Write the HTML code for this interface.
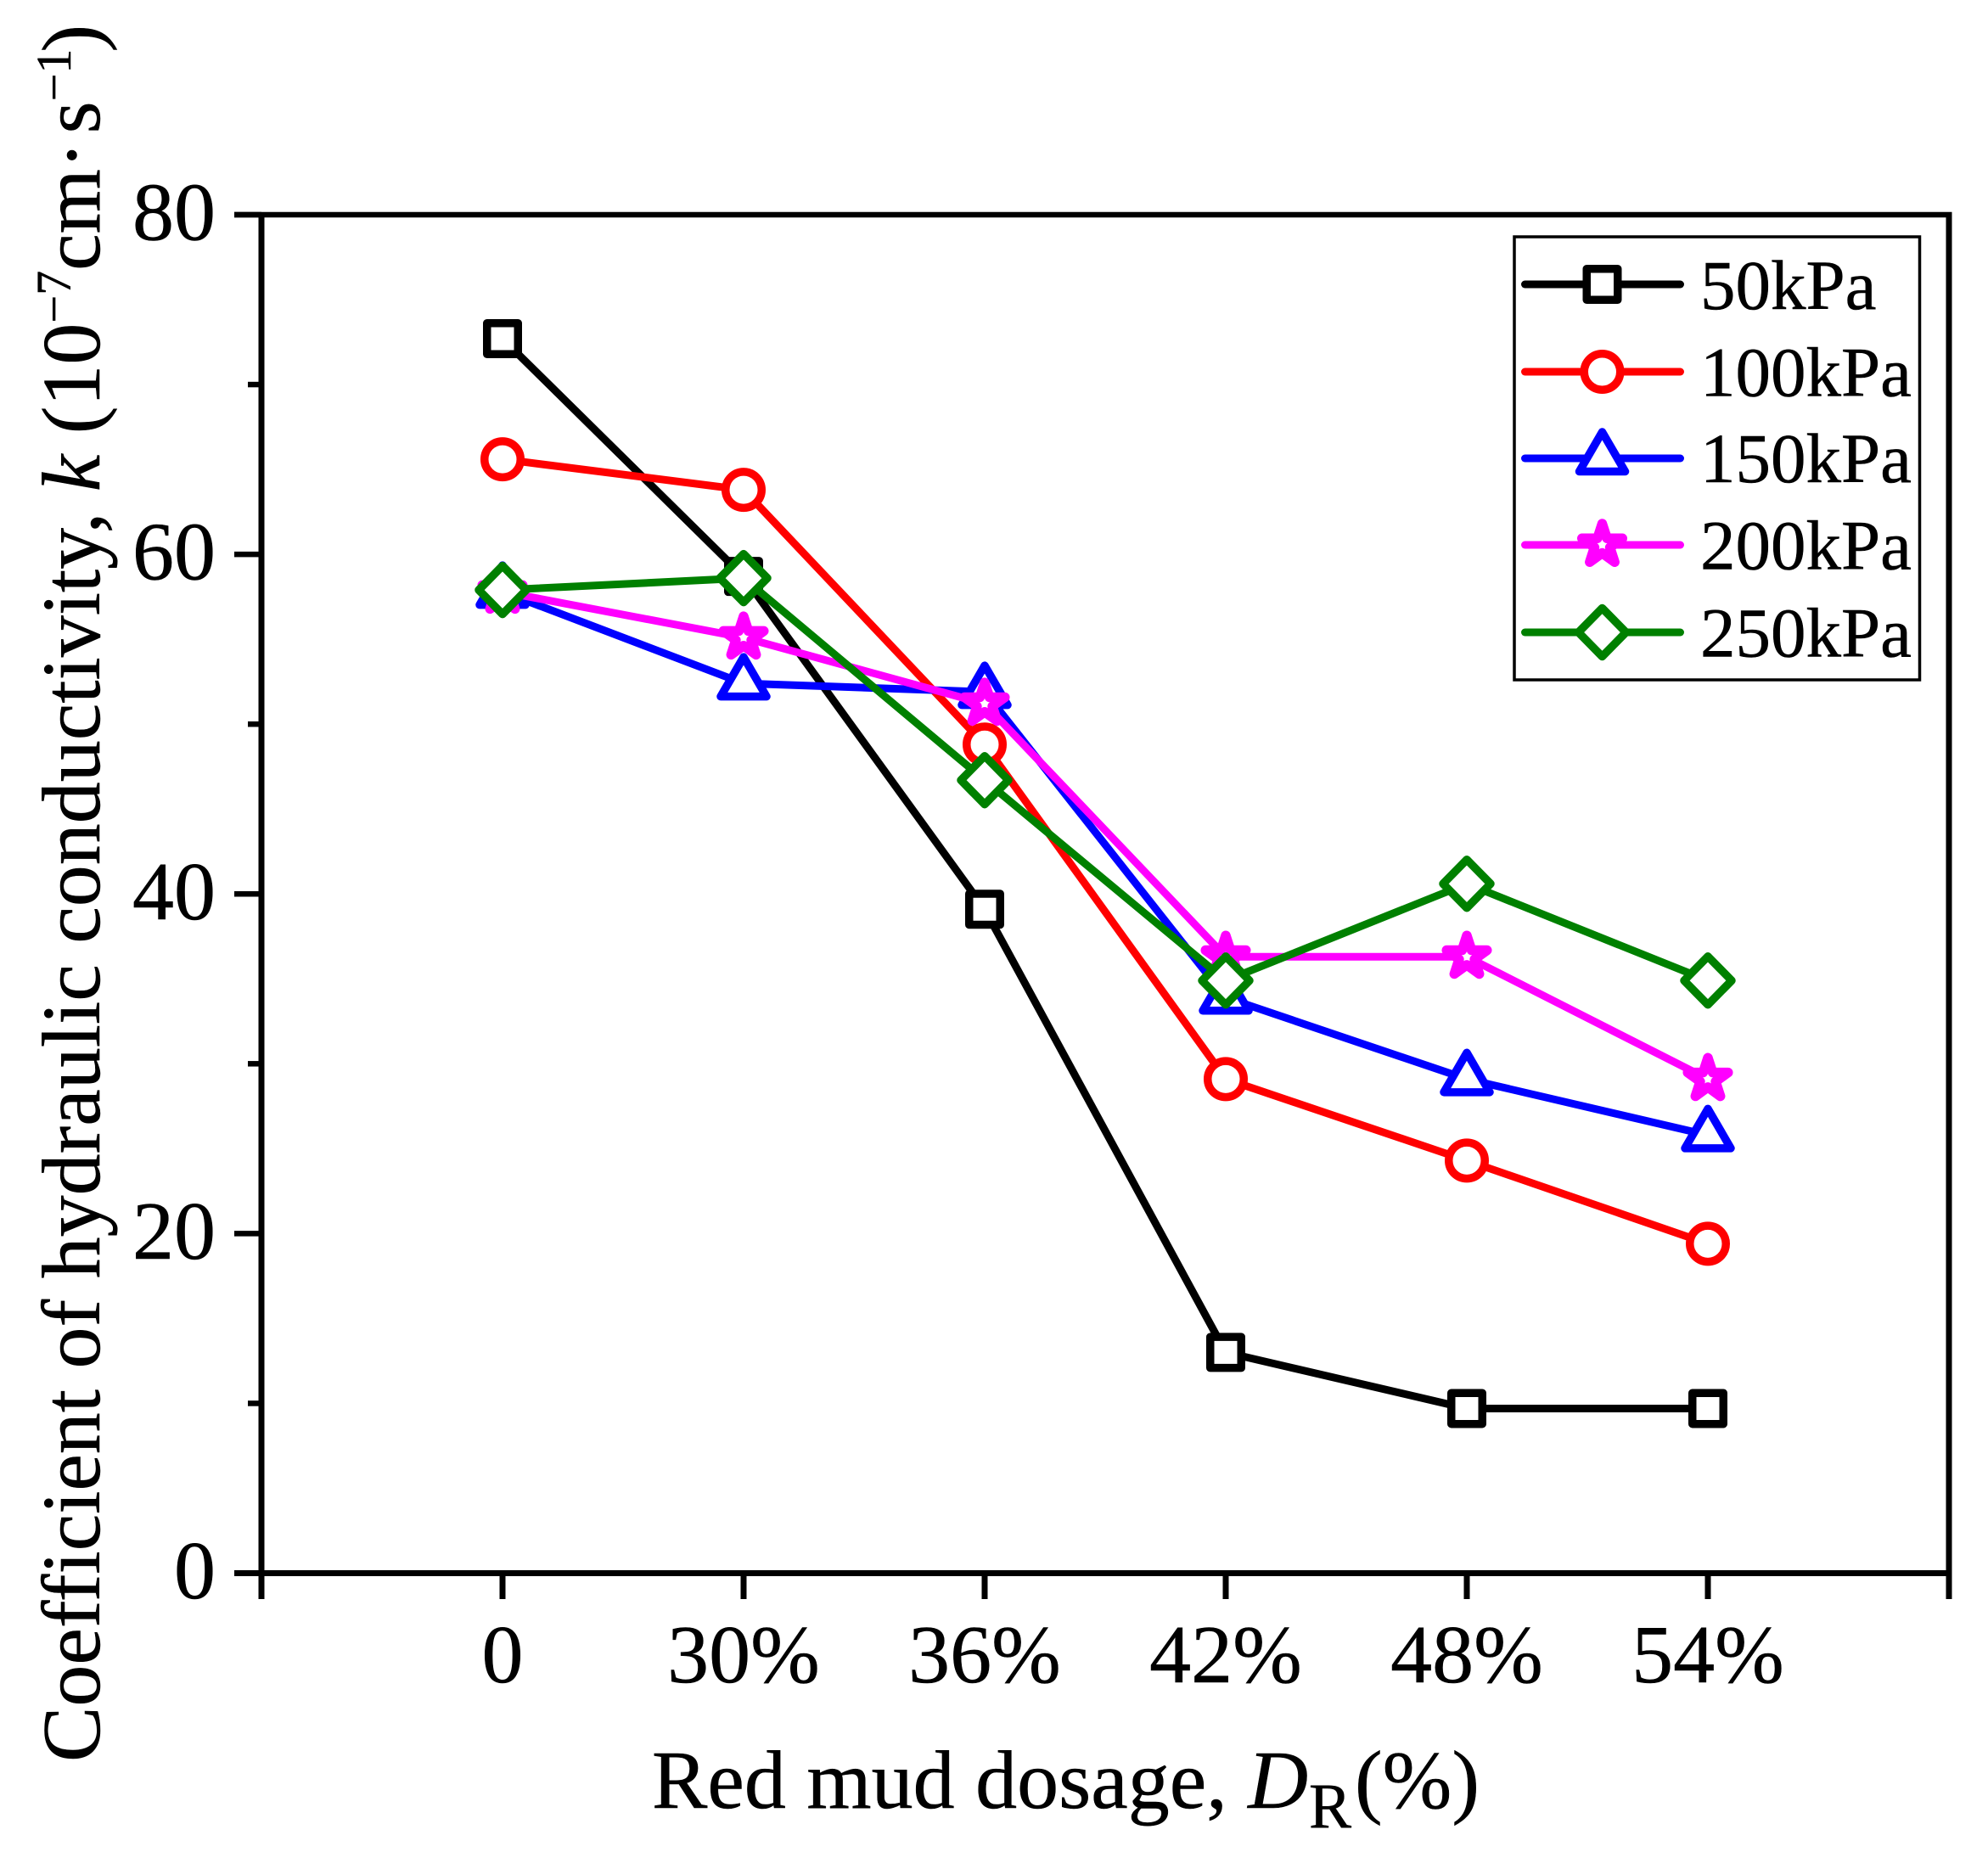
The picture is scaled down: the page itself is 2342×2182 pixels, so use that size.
<!DOCTYPE html>
<html>
<head>
<meta charset="utf-8">
<style>
html,body{margin:0;padding:0;background:#fff;}
svg{display:block;}
text{font-family:"Liberation Serif",serif;fill:#000;stroke:#000;stroke-width:0.5;}
</style>
</head>
<body>
<svg id="chart" xmlns="http://www.w3.org/2000/svg" width="2342" height="2182" viewBox="0 0 2342 2182">
  <rect x="0" y="0" width="2342" height="2182" fill="#fff"/>
  <text transform="translate(117,2072) rotate(-90)" x="-4" y="0" font-size="98">Coefficient of hydraulic conductivity, <tspan font-style="italic">k</tspan> (10<tspan font-size="58" dy="-34">−7</tspan><tspan dy="34">cm·</tspan><tspan dx="9">s</tspan><tspan font-size="58" dy="-34">−1</tspan><tspan dy="34" dx="-4">)</tspan></text>
  <text x="768" y="2130" font-size="98">Red mud dosage, <tspan font-style="italic">D</tspan><tspan font-size="75" dy="23" dx="1">R</tspan><tspan dy="-23" dx="4">(%)</tspan></text>
  <g id="axes"></g>
  <g id="series"></g>
  <g id="legend">
    <rect x="1784" y="279" width="477.5" height="522" fill="#fff" stroke="#000" stroke-width="3.5"/>
  </g>
</svg>
<script>
var categories = ["0", "30%", "36%", "42%", "48%", "54%"];
var yTickLabels = [0, 20, 40, 60, 80];
var yMinorTicks = [10, 30, 50, 70];
var seriesNames = ["50kPa", "100kPa", "150kPa", "200kPa", "250kPa"];
var values50 = [72.7, 58.7, 39.1, 13.0, 9.7, 9.7];
var values100 = [65.6, 63.8, 48.8, 29.1, 24.3, 19.4];
var values150 = [57.8, 52.4, 51.9, 33.9, 29.1, 25.8];
var values200 = [57.8, 55.1, 51.2, 36.3, 36.3, 29.1];
var values250 = [57.9, 58.6, 46.7, 34.9, 40.6, 34.9];

var NS = "http://www.w3.org/2000/svg";
var PLOT = {left: 308, right: 2296, top: 253, bottom: 1853.5, ymax: 80, xmin: -1, xmax: 6};
function xScale(i) { return PLOT.left + (i - PLOT.xmin) * (PLOT.right - PLOT.left) / (PLOT.xmax - PLOT.xmin); }
function yScale(v) { return PLOT.bottom - v * (PLOT.bottom - PLOT.top) / PLOT.ymax; }
function make(tag, attrs) {
  var el = document.createElementNS(NS, tag);
  for (var k in attrs) el.setAttribute(k, attrs[k]);
  return el;
}
function axisLine(x1, y1, x2, y2, w) {
  return make("line", {x1: x1, y1: y1, x2: x2, y2: y2, stroke: "#000", "stroke-width": w});
}
function starPoints(cx, cy, R) {
  var pts = [], r = R * 0.382;
  for (var i = 0; i < 10; i++) {
    var a = -Math.PI / 2 + i * Math.PI / 5, q = i % 2 ? r : R;
    pts.push((cx + q * Math.cos(a)).toFixed(2) + "," + (cy + q * Math.sin(a)).toFixed(2));
  }
  return pts.join(" ");
}
function drawMarker(kind, cx, cy, color) {
  var common = {fill: "#fff", stroke: color, "stroke-width": kind === 3 ? 11.5 : 9.5, "stroke-linejoin": "round"};
  var el;
  if (kind === 0) {
    el = make("rect", {x: cx - 18.25, y: cy - 18.25, width: 36.5, height: 36.5});
  } else if (kind === 1) {
    el = make("circle", {cx: cx, cy: cy, r: 21.25});
  } else if (kind === 2) {
    el = make("polygon", {points: cx + "," + (cy - 31) + " " + (cx + 27) + "," + (cy + 15.5) + " " + (cx - 27) + "," + (cy + 15.5)});
  } else if (kind === 3) {
    el = make("polygon", {points: starPoints(cx, cy, 25)});
  } else {
    el = make("polygon", {points: cx + "," + (cy - 28.5) + " " + (cx + 28) + "," + cy + " " + cx + "," + (cy + 28.5) + " " + (cx - 28) + "," + cy});
  }
  for (var k in common) el.setAttribute(k, common[k]);
  return el;
}

var axes = document.getElementById("axes");
var leftSpine = axisLine(PLOT.left, 250, PLOT.left, 1884, 7);


axes.appendChild(leftSpine);
var rightSpine = axisLine(PLOT.right, 250, PLOT.right, 1884, 7);


axes.appendChild(rightSpine);
var topSpine = axisLine(276, PLOT.top, PLOT.right + 3.5, PLOT.top, 6.5);


axes.appendChild(topSpine);
var bottomSpine = axisLine(276, PLOT.bottom, PLOT.right + 3.5, PLOT.bottom, 7);


axes.appendChild(bottomSpine);

yTickLabels.forEach(function (v) {
  var y = yScale(v);
  var tick = axisLine(276, y, PLOT.left, y, 6.5);
  
  
  axes.appendChild(tick);
  var label = make("text", {x: 254, y: y + 29.5, "text-anchor": "end", "font-size": 98});
  
  
  label.textContent = v;
  axes.appendChild(label);
});
yMinorTicks.forEach(function (v) {
  var y = yScale(v);
  var tick = axisLine(292, y, PLOT.left, y, 6.5);
  
  
  axes.appendChild(tick);
});
categories.forEach(function (c, i) {
  var x = xScale(i);
  var tick = axisLine(x, PLOT.bottom, x, 1884, 7);
  
  
  axes.appendChild(tick);
  var label = make("text", {x: x, y: 1982, "text-anchor": "middle", "font-size": 98});
  
  
  label.textContent = c;
  axes.appendChild(label);
});

var seriesValues = [values50, values100, values150, values200, values250];
var seriesColors = ["#000000", "#ff0000", "#0000ff", "#ff00ff", "#008000"];
var seriesRoot = document.getElementById("series");
seriesValues.forEach(function (vals, s) {
  var g = make("g", {});
  
  
  var line = make("polyline", {
    points: vals.map(function (v, i) { return xScale(i) + "," + yScale(v); }).join(" "),
    fill: "none", stroke: seriesColors[s], "stroke-width": 9, "stroke-linejoin": "round"
  });
  
  
  g.appendChild(line);
  vals.forEach(function (v, i) {
    var m = drawMarker(s, xScale(i), yScale(v), seriesColors[s]);
    
    
    g.appendChild(m);
  });
  seriesRoot.appendChild(g);
});

var legend = document.getElementById("legend");
var legendLineY = [335, 438, 540, 642, 745];
var legendTextY = [364, 466.5, 568, 670.5, 773.5];
seriesNames.forEach(function (name, s) {
  var g = make("g", {});
  
  
  var ln = make("line", {x1: 1796.5, y1: legendLineY[s], x2: 1979.5, y2: legendLineY[s], stroke: seriesColors[s], "stroke-width": 9, "stroke-linecap": "round"});
  
  
  g.appendChild(ln);
  var mk = drawMarker(s, 1887.5, legendLineY[s], seriesColors[s]);
  
  
  g.appendChild(mk);
  var tx = make("text", {x: 2003, y: legendTextY[s], "font-size": 83});
  
  
  tx.textContent = name;
  g.appendChild(tx);
  legend.appendChild(g);
});
</script>
</body>
</html>
